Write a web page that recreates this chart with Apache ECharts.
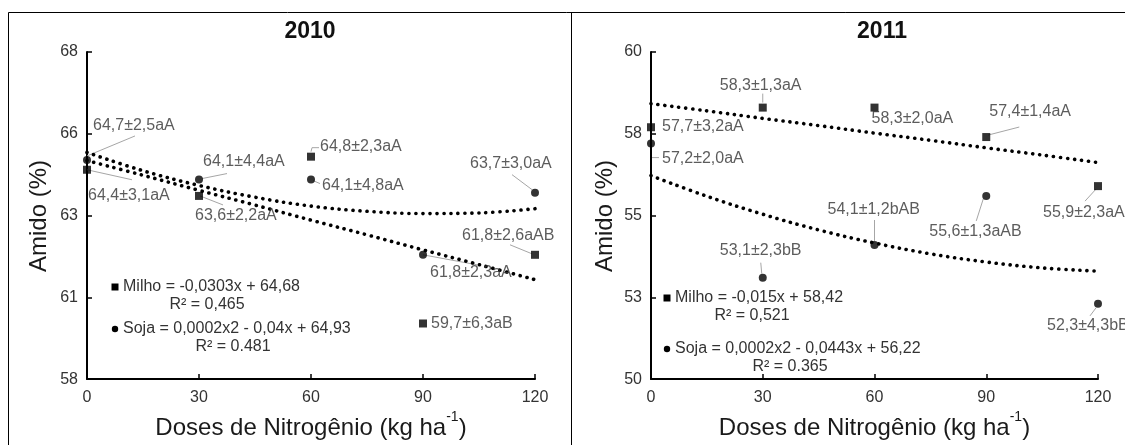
<!DOCTYPE html>
<html>
<head>
<meta charset="utf-8">
<script src="https://cdn.jsdelivr.net/npm/echarts@6/dist/echarts.min.js"></script>
<style>html,body{margin:0;padding:0;background:#fff}#c{width:1125px;height:445px}</style>
</head>
<body>
<div id="c"></div>
<script>
// ---------- data ----------
const years = ['2010', '2011'];
const doses = [0, 30, 60, 90, 120];
const milho2010 = [64.4, 63.6, 64.8, 59.7, 61.8];
const soja2010 = [64.7, 64.1, 64.1, 61.8, 63.7];
const milho2011 = [57.7, 58.3, 58.3, 57.4, 55.9];
const soja2011 = [57.2, 53.1, 54.1, 55.6, 52.3];
const milhoLabels2010 = ['64,4±3,1aA', '63,6±2,2aA', '64,8±2,3aA', '59,7±6,3aB', '61,8±2,6aAB'];
const sojaLabels2010 = ['64,7±2,5aA', '64,1±4,4aA', '64,1±4,8aA', '61,8±2,3aA', '63,7±3,0aA'];
const milhoLabels2011 = ['57,7±3,2aA', '58,3±1,3aA', '58,3±2,0aA', '57,4±1,4aA', '55,9±2,3aA'];
const sojaLabels2011 = ['57,2±2,0aA', '53,1±2,3bB', '54,1±1,2bAB', '55,6±1,3aAB', '52,3±4,3bB'];
const trendX = [0, 15, 30, 45, 60, 75, 90, 105, 120];
const milhoTrend2010 = [64.68, 64.23, 63.77, 63.32, 62.86, 62.41, 61.95, 61.50, 61.04];
const sojaTrend2010 = [64.93, 64.37, 63.92, 63.56, 63.29, 63.13, 63.06, 63.08, 63.21];
const milhoTrend2011 = [58.42, 58.20, 57.97, 57.75, 57.52, 57.30, 57.07, 56.85, 56.62];
const sojaTrend2011 = [56.22, 55.59, 55.04, 54.56, 54.16, 53.83, 53.58, 53.40, 53.30];
const yRange2010 = [58, 68];
const yRange2011 = [50, 60];
const yTitle = 'Amido (%)';
const eq2010 = ['Milho = -0,0303x + 64,68', 'R² = 0,465', 'Soja = 0,0002x2 - 0,04x + 64,93', 'R² = 0.481'];
const eq2011 = ['Milho = -0,015x + 58,42', 'R² = 0,521', 'Soja = 0,0002x2 - 0,0443x + 56,22', 'R² = 0.365'];

// ---------- label placement (style, relative to each point, px) ----------
const labOff = {
  m2010: [[1, 26], [-4, 20], [9, -10], [8, 0], [-73, -19]],
  s2010: [[6, -34], [4, -18], [11, 6], [7, 18], [-65, -29]],
  m2011: [[11, -1], [-43, -22], [-3, 11], [3, -25], [-55, 26]],
  s2011: [[11, 15], [-43, -27], [-47, -35], [-57, 36], [-51, 22]]
};
const leadOff = {
  m2010: [[[0, 0], [45, 10]], [[1, 0], [24, 9]], [[0, -5], [1, -9], [8, -9]], null, [[-25, -10], [-3, -1]]],
  s2010: [[[0, -4], [48, -24]], [[3, -1], [28, -6]], [[2, 1], [9, 4]], [[0, 0], [54, 10]], [[-23, -18], [-3, -3]]],
  m2011: [null, [[0, -14], [0, -5]], null, [[2, -2], [33, -10]], [[-2, 3], [-13, 15]]],
  s2011: [[[1, 14], [8, 14]], [[-2, -15], [-1, -4]], [[0, -25], [0, -4]], [[-3, 3], [-10, 25]], [[-2, 4], [-8, 12]]]
};

const FONT = 'Liberation Sans, Arial, sans-serif';
const TXT = '#333';

function pts(xs, ys) { return xs.map((x, i) => [x, ys[i]]); }

function scatter(name, gi, ys, labels, offKey, symbol) {
  const off = labOff[offKey];
  return {
    type: 'scatter', name: name, xAxisIndex: gi, yAxisIndex: gi,
    data: pts(doses, ys), symbol: symbol, symbolSize: 8, z: 5,
    itemStyle: { color: '#000' },
    label: {
      show: true, fontFamily: FONT, fontSize: 16, color: TXT,
      formatter: p => labels[p.dataIndex]
    },
    labelLayout: function (p) {
      const o = off[p.dataIndex];
      return { x: p.rect.x + p.rect.width / 2 + o[0], y: p.rect.y + p.rect.height / 2 + o[1], align: 'left', verticalAlign: 'middle' };
    }
  };
}

function leaders(gi, ys, offKey) {
  const lo = leadOff[offKey];
  return {
    type: 'custom', xAxisIndex: gi, yAxisIndex: gi, z: 3, silent: true,
    data: pts(doses, ys),
    renderItem: function (params, api) {
      const l = lo[params.dataIndex];
      if (!l) return null;
      const c = api.coord([api.value(0), api.value(1)]);
      return {
        type: 'polyline',
        shape: { points: l.map(q => [c[0] + q[0], c[1] + q[1]]) },
        style: { stroke: '#a6a6a6', lineWidth: 1, fill: null }
      };
    }
  };
}

function trend(gi, ys) {
  return {
    type: 'line', xAxisIndex: gi, yAxisIndex: gi, data: pts(trendX, ys),
    smooth: 0.4, showSymbol: false, symbol: 'none', z: 4, silent: true,
    lineStyle: { color: '#000', width: 3.6, type: [0.1, 6.9], cap: 'round' }
  };
}

function xAxis(gi) {
  return {
    type: 'value', gridIndex: gi, min: 0, max: 120, interval: 30,
    name: '{a|Doses de Nitrogênio (kg ha}{s|-1}{a|)}',
    nameLocation: 'middle', nameGap: 30,
    nameTextStyle: {
      rich: {
        a: { fontFamily: FONT, fontSize: 24, color: '#1a1a1a', lineHeight: 30, verticalAlign: 'bottom' },
        s: { fontFamily: FONT, fontSize: 14, color: '#1a1a1a', lineHeight: 30, verticalAlign: 'top', padding: [0, 0, 14, 0] }
      }
    },
    axisLine: { show: true, lineStyle: { color: '#000', width: 2 } },
    axisTick: { show: true, inside: true, length: 5, lineStyle: { color: '#000', width: 1.5 } },
    axisLabel: { fontFamily: FONT, fontSize: 16, color: '#333', margin: 10 },
    splitLine: { show: false }
  };
}

function yAxis(gi, range) {
  return {
    type: 'value', gridIndex: gi, min: range[0], max: range[1], interval: 2.5,
    axisLine: { show: true, lineStyle: { color: '#000', width: 2 } },
    axisTick: { show: true, inside: true, length: 5, lineStyle: { color: '#000', width: 1.5 } },
    axisLabel: { fontFamily: FONT, fontSize: 16, color: '#333', margin: 9, formatter: v => String(Math.round(v)) },
    splitLine: { show: false }
  };
}

function eqGraphics(eq, b) {
  const f = '16px ' + FONT;
  return [
    { type: 'rect', shape: { x: b.mx - 3.5, y: b.y1 - 3.5, width: 7, height: 7 }, style: { fill: '#000' } },
    { type: 'text', x: b.tx, y: b.y1, style: { text: eq[0], font: f, fill: TXT, textAlign: 'left', textVerticalAlign: 'middle' } },
    { type: 'text', x: b.r1x, y: b.y1 + 18, style: { text: eq[1], font: f, fill: TXT, textAlign: 'center', textVerticalAlign: 'middle' } },
    { type: 'circle', shape: { cx: b.mx, cy: b.y2, r: 3.2 }, style: { fill: '#000' } },
    { type: 'text', x: b.tx, y: b.y2, style: { text: eq[2], font: f, fill: TXT, textAlign: 'left', textVerticalAlign: 'middle' } },
    { type: 'text', x: b.r2x, y: b.y2 + 18, style: { text: eq[3], font: f, fill: TXT, textAlign: 'center', textVerticalAlign: 'middle' } }
  ];
}

function yTitleGraphic(x, y) {
  return { type: 'text', x: x, y: y, rotation: Math.PI / 2,
    style: { text: yTitle, font: '24px ' + FONT, fill: '#1a1a1a', textAlign: 'center', textVerticalAlign: 'middle' } };
}

const chart = echarts.init(document.getElementById('c'), null, { renderer: 'canvas' });
chart.setOption({
  animation: false,
  backgroundColor: '#fff',
  grid: [
    { left: 87, right: 590, top: 52, bottom: 63 },
    { left: 651, right: 27, top: 52, bottom: 63 }
  ],
  xAxis: [xAxis(0), xAxis(1)],
  yAxis: [yAxis(0, yRange2010), yAxis(1, yRange2011)],
  series: [
    trend(0, milhoTrend2010), trend(0, sojaTrend2010),
    trend(1, milhoTrend2011), trend(1, sojaTrend2011),
    leaders(0, milho2010, 'm2010'), leaders(0, soja2010, 's2010'),
    leaders(1, milho2011, 'm2011'), leaders(1, soja2011, 's2011'),
    scatter('Milho', 0, milho2010, milhoLabels2010, 'm2010', 'rect'),
    scatter('Soja', 0, soja2010, sojaLabels2010, 's2010', 'circle'),
    scatter('Milho', 1, milho2011, milhoLabels2011, 'm2011', 'rect'),
    scatter('Soja', 1, soja2011, sojaLabels2011, 's2011', 'circle')
  ],
  graphic: [
    { type: 'polyline', shape: { points: [[8.5, 445], [8.5, 12.5], [1125, 12.5]] }, style: { stroke: '#000', lineWidth: 1, fill: null } },
    { type: 'line', shape: { x1: 571.5, y1: 12.5, x2: 571.5, y2: 445 }, style: { stroke: '#000', lineWidth: 1 } },
    { type: 'text', x: 310, y: 32, style: { text: years[0], font: 'bold 23px ' + FONT, fill: '#111', textAlign: 'center', textVerticalAlign: 'middle' } },
    { type: 'text', x: 882, y: 32, style: { text: years[1], font: 'bold 23px ' + FONT, fill: '#111', textAlign: 'center', textVerticalAlign: 'middle' } },
    yTitleGraphic(39, 216),
    yTitleGraphic(605, 216)
  ].concat(
    eqGraphics(eq2010, { mx: 115, y1: 287, y2: 329, tx: 123, r1x: 207, r2x: 233 }),
    eqGraphics(eq2011, { mx: 667, y1: 298, y2: 349, tx: 675, r1x: 752, r2x: 790 })
  )
});
</script>
</body>
</html>
